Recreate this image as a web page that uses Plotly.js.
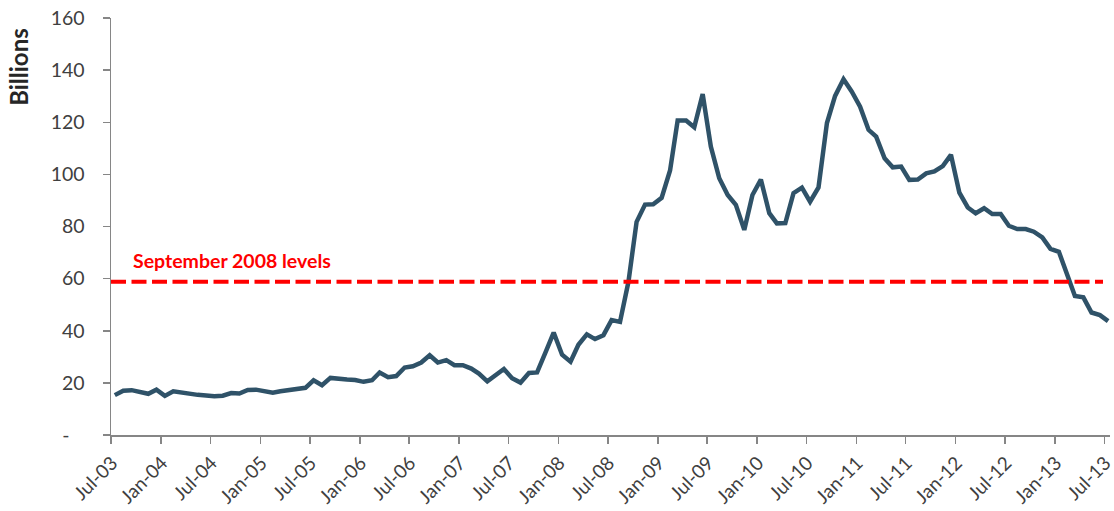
<!DOCTYPE html>
<html>
<head>
<meta charset="utf-8">
<script src="https://cdn.plot.ly/plotly-3.0.1.min.js"></script>
<style>
  html, body { margin: 0; padding: 0; background: #ffffff; }
  #chart { width: 1114px; height: 511px; }
</style>
</head>
<body>
<div id="chart"></div>
<script>
// Monthly values, billions (Jul-03 .. Jul-13)
const values2003 = [15.3, 17.0, 17.2, 16.7, 15.8, 17.4];                       // Jul-Dec 03
const values2004 = [15.0, 16.8, 16.3, 15.9, 15.4, 15.2, 14.9, 15.1, 16.1, 15.9, 17.3, 17.4];
const values2005 = [16.9, 16.2, 16.8, 17.2, 17.3, 18.1, 21.0, 19.1, 21.9, 21.4, 21.3, 21.1];
const values2006 = [20.4, 21.0, 24.0, 22.2, 22.6, 25.9, 26.4, 27.8, 30.6, 27.8, 28.7, 26.8];
const values2007 = [26.8, 25.5, 23.6, 20.6, 22.9, 25.3, 21.8, 20.1, 23.8, 24.0, 31.7, 39.3];
const values2008 = [30.8, 28.1, 34.6, 38.6, 36.8, 38.3, 44.1, 43.4, 58.8, 81.8, 88.4, 88.5];
const values2009 = [91.0, 101.5, 120.7, 120.7, 118.1, 130.8, 110.7, 98.5, 92.1, 88.3, 78.7, 92.1];
const values2010 = [98.0, 85.1, 81.2, 81.3, 92.8, 94.9, 89.5, 95.0, 119.7, 130.1, 136.5, 131.8];
const values2011 = [126.0, 117.1, 114.5, 106.2, 102.7, 103.0, 97.9, 98.0, 100.4, 101.1, 103.2, 107.5];
const values2012 = [93.0, 87.3, 85.1, 87.0, 84.8, 84.8, 80.3, 79.0, 79.0, 78.0, 75.8, 71.4];
const values2013 = [70.3, 61.4, 53.3, 52.8, 47.0, 46.0, 43.7];                  // Jan-Jul 13

const startYear = 2003, startMonth = 7;   // first observation month
const referenceMonth = '2008-09';         // "September 2008 levels"
const annotationText = 'September 2008 levels';

const xTickVals = ['2003-07-01', '2004-01-01', '2004-07-01', '2005-01-01', '2005-07-01',
  '2006-01-01', '2006-07-01', '2007-01-01', '2007-07-01', '2008-01-01', '2008-07-01',
  '2009-01-01', '2009-07-01', '2010-01-01', '2010-07-01', '2011-01-01', '2011-07-01',
  '2012-01-01', '2012-07-01', '2013-01-01', '2013-07-01'];
const xTickText = ['Jul-03', 'Jan-04', 'Jul-04', 'Jan-05', 'Jul-05', 'Jan-06', 'Jul-06',
  'Jan-07', 'Jul-07', 'Jan-08', 'Jul-08', 'Jan-09', 'Jul-09', 'Jan-10', 'Jul-10',
  'Jan-11', 'Jul-11', 'Jan-12', 'Jul-12', 'Jan-13', 'Jul-13'];
const yTickVals = [0, 20, 40, 60, 80, 100, 120, 140, 160];
const yTickText = ['-\u00a0\u00a0\u00a0', '20', '40', '60', '80', '100', '120', '140', '160'];
const yTitle = 'Billions';

const values = [].concat(values2003, values2004, values2005, values2006, values2007,
  values2008, values2009, values2010, values2011, values2012, values2013);

// observation dates (mid-month)
const dates = [];
for (let k = 0; k < values.length; k++) {
  const m0 = startMonth - 1 + k;
  const y = startYear + Math.floor(m0 / 12);
  const m = (m0 % 12) + 1;
  dates.push(y + '-' + String(m).padStart(2, '0') + '-15');
}
const refIndex = dates.findIndex(d => d.startsWith(referenceMonth));
const refLevel = values[refIndex];

const fontFam = 'Lato, "Open Sans", sans-serif';
const textCol = '#404040';
const axisCol = '#868686';

const data = [{
  type: 'scatter',
  mode: 'lines',
  x: dates,
  y: values,
  line: { color: '#2F5268', width: 4.5, shape: 'linear' },
  hoverinfo: 'x+y',
  showlegend: false
}];

const layout = {
  width: 1114,
  height: 511,
  margin: { l: 111, r: 4, t: 18, b: 76, pad: 0 },
  paper_bgcolor: '#ffffff',
  plot_bgcolor: '#ffffff',
  showlegend: false,
  font: { family: fontFam, size: 19.5, color: textCol },
  xaxis: {
    type: 'date',
    range: ['2003-07-01', '2013-07-22'],
    tickmode: 'array',
    tickvals: xTickVals,
    ticktext: xTickText,
    tickangle: -45,
    ticks: 'outside',
    ticklen: 7,
    tickwidth: 1.5,
    tickcolor: axisCol,
    showline: true,
    linecolor: axisCol,
    linewidth: 1.5,
    showgrid: false,
    zeroline: false,
    ticklabelshift: 1,
    ticklabelstandoff: 1,
    ticklabeloverflow: 'allow',
    tickfont: { family: fontFam, size: 19, color: textCol }
  },
  yaxis: {
    range: [0, 160],
    tickmode: 'array',
    tickvals: yTickVals,
    ticktext: yTickText,
    ticks: 'outside',
    ticklen: 7,
    tickwidth: 1.5,
    tickcolor: axisCol,
    showline: true,
    linecolor: axisCol,
    linewidth: 1.5,
    showgrid: false,
    zeroline: false,
    ticklabelstandoff: 14,
    tickfont: { family: fontFam, size: 19.5, color: textCol }
  },
  shapes: [{
    type: 'line',
    xref: 'paper', x0: 0, x1: 0.993,
    yref: 'y', y0: refLevel, y1: refLevel,
    line: { color: '#FF0000', width: 4, dash: '15px,5.5px' },
    layer: 'above'
  }],
  annotations: [
    {
      text: '<b>' + annotationText + '</b>',
      xref: 'paper', x: 0.02, xanchor: 'left',
      yref: 'y', y: 67, yanchor: 'middle',
      showarrow: false,
      font: { family: fontFam, size: 19.5, color: '#FF0000' }
    },
    {
      text: '<b>' + yTitle + '</b>',
      textangle: -90,
      xref: 'paper', x: -0.0926, xanchor: 'center',
      yref: 'paper', y: 0.884, yanchor: 'middle',
      showarrow: false,
      font: { family: fontFam, size: 24, color: '#262626' }
    }
  ]
};

Plotly.newPlot('chart', data, layout, { displayModeBar: false, staticPlot: true });
</script>
</body>
</html>
